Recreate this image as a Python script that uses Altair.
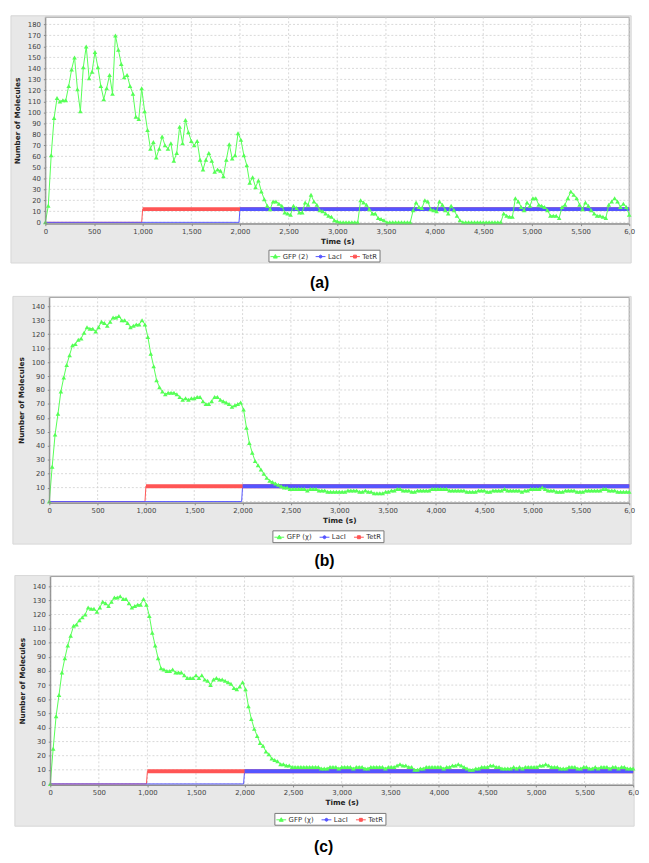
import altair as alt
import pandas as pd

# ---------------- data ----------------
STEP = 30  # sampling interval of the GFP traces (s)
X_TICKS = [0, 500, 1000, 1500, 2000, 2500, 3000, 3500, 4000, 4500, 5000, 5500, 6000]
Y_TICKS_A = [0, 10, 20, 30, 40, 50, 60, 70, 80, 90, 100, 110, 120, 130, 140, 150, 160, 170, 180]
Y_TICKS_BC = [0, 10, 20, 30, 40, 50, 60, 70, 80, 90, 100, 110, 120, 130, 140]

GFP_A = [
    0, 15, 61, 95, 113, 110, 111, 111, 124, 139,
    150, 121, 101, 141, 160, 131, 137, 155, 141, 124,
    112, 122, 134, 117, 170, 157, 144, 132, 134, 124,
    117, 96, 94, 122, 101, 84, 67, 73, 59, 67,
    78, 70, 67, 72, 56, 63, 87, 72, 93, 82,
    74, 70, 74, 57, 48, 57, 63, 56, 46, 48,
    47, 42, 57, 71, 58, 61, 81, 75, 61, 52,
    36, 41, 32, 38, 28, 21, 15, 12, 19, 19,
    17, 15, 9, 8, 7, 15, 13, 9, 9, 18,
    16, 25, 19, 16, 11, 10, 8, 6, 5, 2,
    1, 0, 0, 0, 0, 0, 0, 0, 20, 18,
    16, 12, 8, 8, 4, 3, 2, 0, 0, 0,
    0, 0, 0, 0, 0, 0, 11, 18, 14, 13,
    20, 19, 12, 11, 10, 19, 16, 11, 8, 15,
    11, 6, 2, 0, 0, 0, 0, 0, 0, 0,
    0, 0, 0, 0, 0, 0, 0, 8, 6, 5,
    5, 22, 19, 14, 11, 18, 15, 22, 22, 16,
    15, 14, 11, 6, 6, 6, 4, 14, 16, 22,
    28, 25, 22, 16, 12, 18, 15, 11, 8, 6,
    6, 5, 4, 16, 19, 22, 19, 14, 17, 14,
    7,
]

GFP_B = [
    0, 25, 48, 63, 79, 89, 98, 105, 112, 113,
    116, 117, 121, 125, 124, 124, 122, 125, 129, 128,
    126, 129, 132, 132, 133, 130, 130, 128, 125, 126,
    127, 127, 130, 127, 118, 106, 97, 87, 82, 79,
    77, 78, 78, 78, 77, 75, 73, 74, 73, 74,
    74, 75, 75, 72, 70, 70, 72, 75, 75, 73,
    72, 71, 70, 68, 69, 70, 71, 66, 53, 42,
    35, 29, 26, 23, 20, 17, 15, 14, 13, 12,
    11, 10, 10, 9, 9, 9, 9, 9, 9, 8,
    9, 9, 9, 8, 8, 8, 7, 7, 7, 7,
    7, 7, 7, 8, 8, 8, 8, 7, 7, 8,
    7, 7, 6, 6, 6, 6, 7, 7, 8, 8,
    9, 9, 8, 8, 8, 7, 7, 8, 8, 8,
    8, 8, 9, 9, 9, 9, 9, 9, 8, 8,
    8, 8, 8, 8, 7, 7, 7, 7, 8, 8,
    8, 7, 7, 8, 8, 8, 8, 9, 8, 8,
    8, 8, 8, 7, 8, 8, 9, 9, 9, 9,
    10, 9, 8, 8, 8, 7, 7, 7, 8, 8,
    8, 8, 7, 7, 7, 8, 8, 8, 8, 8,
    8, 9, 9, 8, 8, 8, 7, 7, 7, 7,
    7,
]

GFP_C = [
    0, 25, 48, 63, 79, 89, 98, 105, 112, 113,
    116, 118, 120, 125, 124, 124, 122, 125, 129, 128,
    126, 129, 132, 132, 133, 131, 131, 128, 125, 126,
    127, 127, 131, 127, 119, 107, 98, 89, 82, 81,
    80, 80, 81, 79, 79, 79, 77, 75, 75, 75,
    77, 75, 77, 74, 73, 70, 74, 75, 74, 74,
    73, 72, 71, 68, 67, 69, 72, 67, 55, 46,
    39, 34, 29, 27, 23, 21, 18, 17, 16, 14,
    14, 13, 13, 12, 12, 12, 12, 12, 12, 12,
    12, 12, 12, 11, 11, 11, 12, 12, 12, 11,
    12, 12, 12, 12, 11, 12, 12, 12, 11, 11,
    12, 12, 12, 12, 12, 11, 12, 12, 12, 13,
    14, 13, 13, 12, 12, 10, 10, 11, 11, 12,
    12, 12, 12, 12, 12, 11, 12, 12, 13, 13,
    14, 13, 12, 11, 10, 10, 11, 11, 12, 12,
    12, 13, 13, 12, 12, 11, 11, 11, 11, 12,
    11, 12, 11, 12, 12, 12, 12, 12, 13, 13,
    14, 13, 12, 12, 12, 11, 11, 11, 12, 12,
    12, 11, 11, 12, 12, 11, 11, 12, 11, 12,
    12, 12, 11, 12, 12, 11, 12, 12, 11, 11,
    11,
]

# LacI / TetR input traces: breakpoints (time, molecules)
TETR_T = [0, 990, 1000, 6000]
LACI_T = [0, 1990, 2000, 6000]
TETR_A = [0, 0, 12, 12]
LACI_A = [0, 0, 12, 12]
TETR_B = [0, 0, 11, 11]
LACI_B = [0, 0, 11, 11]
TETR_C = [0, 0, 9, 9]
LACI_C = [0, 0, 9, 9]

NAMES_A = ["GFP (2)", "LacI", "TetR"]
NAMES_BC = ["GFP (\u03c7)", "LacI", "TetR"]
PANEL_LABELS = ["(a)", "(b)", "(c)"]

# ---------------- styling ----------------
GREEN, BLUE, RED = "#55ff55", "#5555ff", "#ff5555"
SERIES_COLORS = [GREEN, BLUE, RED]
LEGEND_PATHS = [
    "M-1,0H1M0,-0.42L0.4,0.3L-0.4,0.3Z",
    "M-1,0H1M0.3,0A0.3,0.3,0,1,1,-0.3,0A0.3,0.3,0,1,1,0.3,0Z",
    "M-1,0H1M-0.3,-0.3H0.3V0.3H-0.3Z",
]
PANEL_BG = "#e8e8e8"
PANEL_EDGE = "#d6d6d6"
PLOT_EDGE = "#a0a0a0"
GRID = "#cfcfcf"
FONT = "DejaVu Sans"

PANELS = [
    dict(gfp=GFP_A, tetr=TETR_A, laci=LACI_A, names=NAMES_A, label=PANEL_LABELS[0],
         H=210, W=594, dx=0, ydom=[-1.2, 186.5], yticks=Y_TICKS_A,
         gray=(-35, 596, -1.5, 250), B=73, leg=(227, 236.5), lab=(279, 270)),
    dict(gfp=GFP_B, tetr=TETR_B, laci=LACI_B, names=NAMES_BC, label=PANEL_LABELS[1],
         H=209, W=590, dx=4, ydom=[-0.9, 146.4], yticks=Y_TICKS_BC,
         gray=(-33, 596, -1, 251), B=73, leg=(231, 237), lab=(284, 268)),
    dict(gfp=GFP_C, tetr=TETR_C, laci=LACI_C, names=NAMES_BC, label=PANEL_LABELS[2],
         H=212, W=593, dx=5, ydom=[-0.7, 146.9], yticks=Y_TICKS_BC,
         gray=(-31, 599, -1, 254), B=66, leg=(233, 240.5), lab=(283, 275)),
]

LAST_LABEL = "datum.value == 6000 ? '6,0\u00a0\u00a0\u00a0' : datum.label"


def make_panel(p):
    H, W, dx = p["H"], p["W"], p["dx"]
    x_scale = alt.Scale(domain=[0, 6000], range=[dx, dx + W], nice=False, zero=False)
    y_scale = alt.Scale(domain=p["ydom"], nice=False, zero=False)
    x_axis = alt.Axis(values=X_TICKS, format=",d", labelExpr=LAST_LABEL, labelFlush=False,
                      labelOverlap=False, grid=False, tickSize=2, tickColor="#888888",
                      domainColor="#888888", labelPadding=2, title="Time (s)",
                      titlePadding=3, zindex=1)
    y_axis = alt.Axis(values=p["yticks"], format="d", grid=False, tickSize=2,
                      tickColor="#888888", domainColor="#888888", labelPadding=3,
                      labelOverlap=False, offset=-dx, title="Number of Molecules",
                      titlePadding=6, zindex=1)
    one = pd.DataFrame({"k": [0]})
    gx1, gx2, gy1, gy2 = p["gray"]

    frame = alt.Chart(one).mark_rect(fill="white", strokeWidth=0).encode(
        x=alt.value(-38), x2=alt.value(600), y=alt.value(-2), y2=alt.value(H + p["B"]))
    gray = alt.Chart(one).mark_rect(fill=PANEL_BG, stroke=PANEL_EDGE, strokeWidth=1).encode(
        x=alt.value(gx1), x2=alt.value(gx2), y=alt.value(gy1), y2=alt.value(gy2))
    plot_bg = alt.Chart(one).mark_rect(fill="white", stroke=PLOT_EDGE, strokeWidth=1).encode(
        x=alt.value(dx), x2=alt.value(dx + W), y=alt.value(0), y2=alt.value(H))

    vgrid = alt.Chart(pd.DataFrame({"tick": X_TICKS})).mark_rule(
        color=GRID, strokeDash=[2, 2], strokeWidth=0.8).encode(
        x=alt.X("tick:Q", scale=x_scale, axis=x_axis), y=alt.value(0), y2=alt.value(H))
    hgrid = alt.Chart(pd.DataFrame({"tick": p["yticks"]})).mark_rule(
        color=GRID, strokeDash=[2, 2], strokeWidth=0.8).encode(
        y=alt.Y("tick:Q", scale=y_scale, axis=y_axis), x=alt.value(dx), x2=alt.value(dx + W))

    def enc(ch):
        return ch.encode(x=alt.X("t:Q", scale=x_scale, axis=x_axis),
                         y=alt.Y("v:Q", scale=y_scale, axis=y_axis))

    tetr = pd.DataFrame({"t": TETR_T, "v": p["tetr"]})
    laci = pd.DataFrame({"t": LACI_T, "v": p["laci"]})
    gfp = pd.DataFrame({"t": [i * STEP for i in range(len(p["gfp"]))], "v": p["gfp"]})

    tetr_thin = enc(alt.Chart(tetr).mark_line(color=RED, strokeWidth=1))
    laci_thin = enc(alt.Chart(laci).mark_line(color=BLUE, strokeWidth=1))
    tetr_band = enc(alt.Chart(tetr).transform_filter("datum.v > 0").mark_line(
        color=RED, strokeWidth=4, strokeCap="butt"))
    laci_band = enc(alt.Chart(laci).transform_filter("datum.v > 0").mark_line(
        color=BLUE, strokeWidth=4, strokeCap="butt"))
    gfp_line = enc(alt.Chart(gfp).mark_line(color=GREEN, strokeWidth=1))
    gfp_pts = enc(alt.Chart(gfp).mark_point(shape="triangle-up", filled=True, size=22,
                                             color=GREEN, opacity=1))

    names = p["names"]
    lx, ly = p["leg"]
    legend = alt.Legend(orient="none", legendX=lx, legendY=ly, direction="horizontal",
                        title=None, labelFont=FONT, labelFontSize=7, labelColor="#333333",
                        symbolSize=100, symbolStrokeWidth=1, symbolOpacity=1,
                        padding=1.5, strokeColor="#777777", fillColor="white",
                        columnPadding=5, labelOffset=2, zindex=1)
    legend_layer = alt.Chart(pd.DataFrame({"series": names})).mark_point(
        filled=True, opacity=0, size=1).encode(
        color=alt.Color("series:N", scale=alt.Scale(domain=names, range=SERIES_COLORS), legend=legend),
        stroke=alt.Stroke("series:N", scale=alt.Scale(domain=names, range=SERIES_COLORS), legend=legend),
        shape=alt.Shape("series:N", scale=alt.Scale(domain=names, range=LEGEND_PATHS), legend=legend),
    )

    tx, ty = p["lab"]
    label = alt.Chart(one).mark_text(font="Liberation Sans", fontSize=16, fontWeight="bold",
                                     color="black", align="center", baseline="middle").encode(
        x=alt.value(tx), y=alt.value(ty), text=alt.value(p["label"]))

    return alt.layer(frame, gray, plot_bg, vgrid, hgrid, tetr_thin, laci_thin, tetr_band,
                     laci_band, gfp_line, gfp_pts, legend_layer, label).properties(
        width=dx + W, height=H)


chart = alt.vconcat(*[make_panel(p) for p in PANELS], spacing=0).resolve_scale(
    color="independent", stroke="independent", shape="independent"
).resolve_legend(
    color="independent", stroke="independent", shape="independent"
).properties(
    padding=0, background="white"
).configure_view(stroke=None).configure_axis(
    labelFont=FONT, labelFontSize=7, labelColor="#444444",
    titleFont=FONT, titleFontSize=7.4, titleFontWeight="bold", titleColor="#222222",
)

chart.save("out.html", embed_options={"renderer": "svg", "actions": False})
